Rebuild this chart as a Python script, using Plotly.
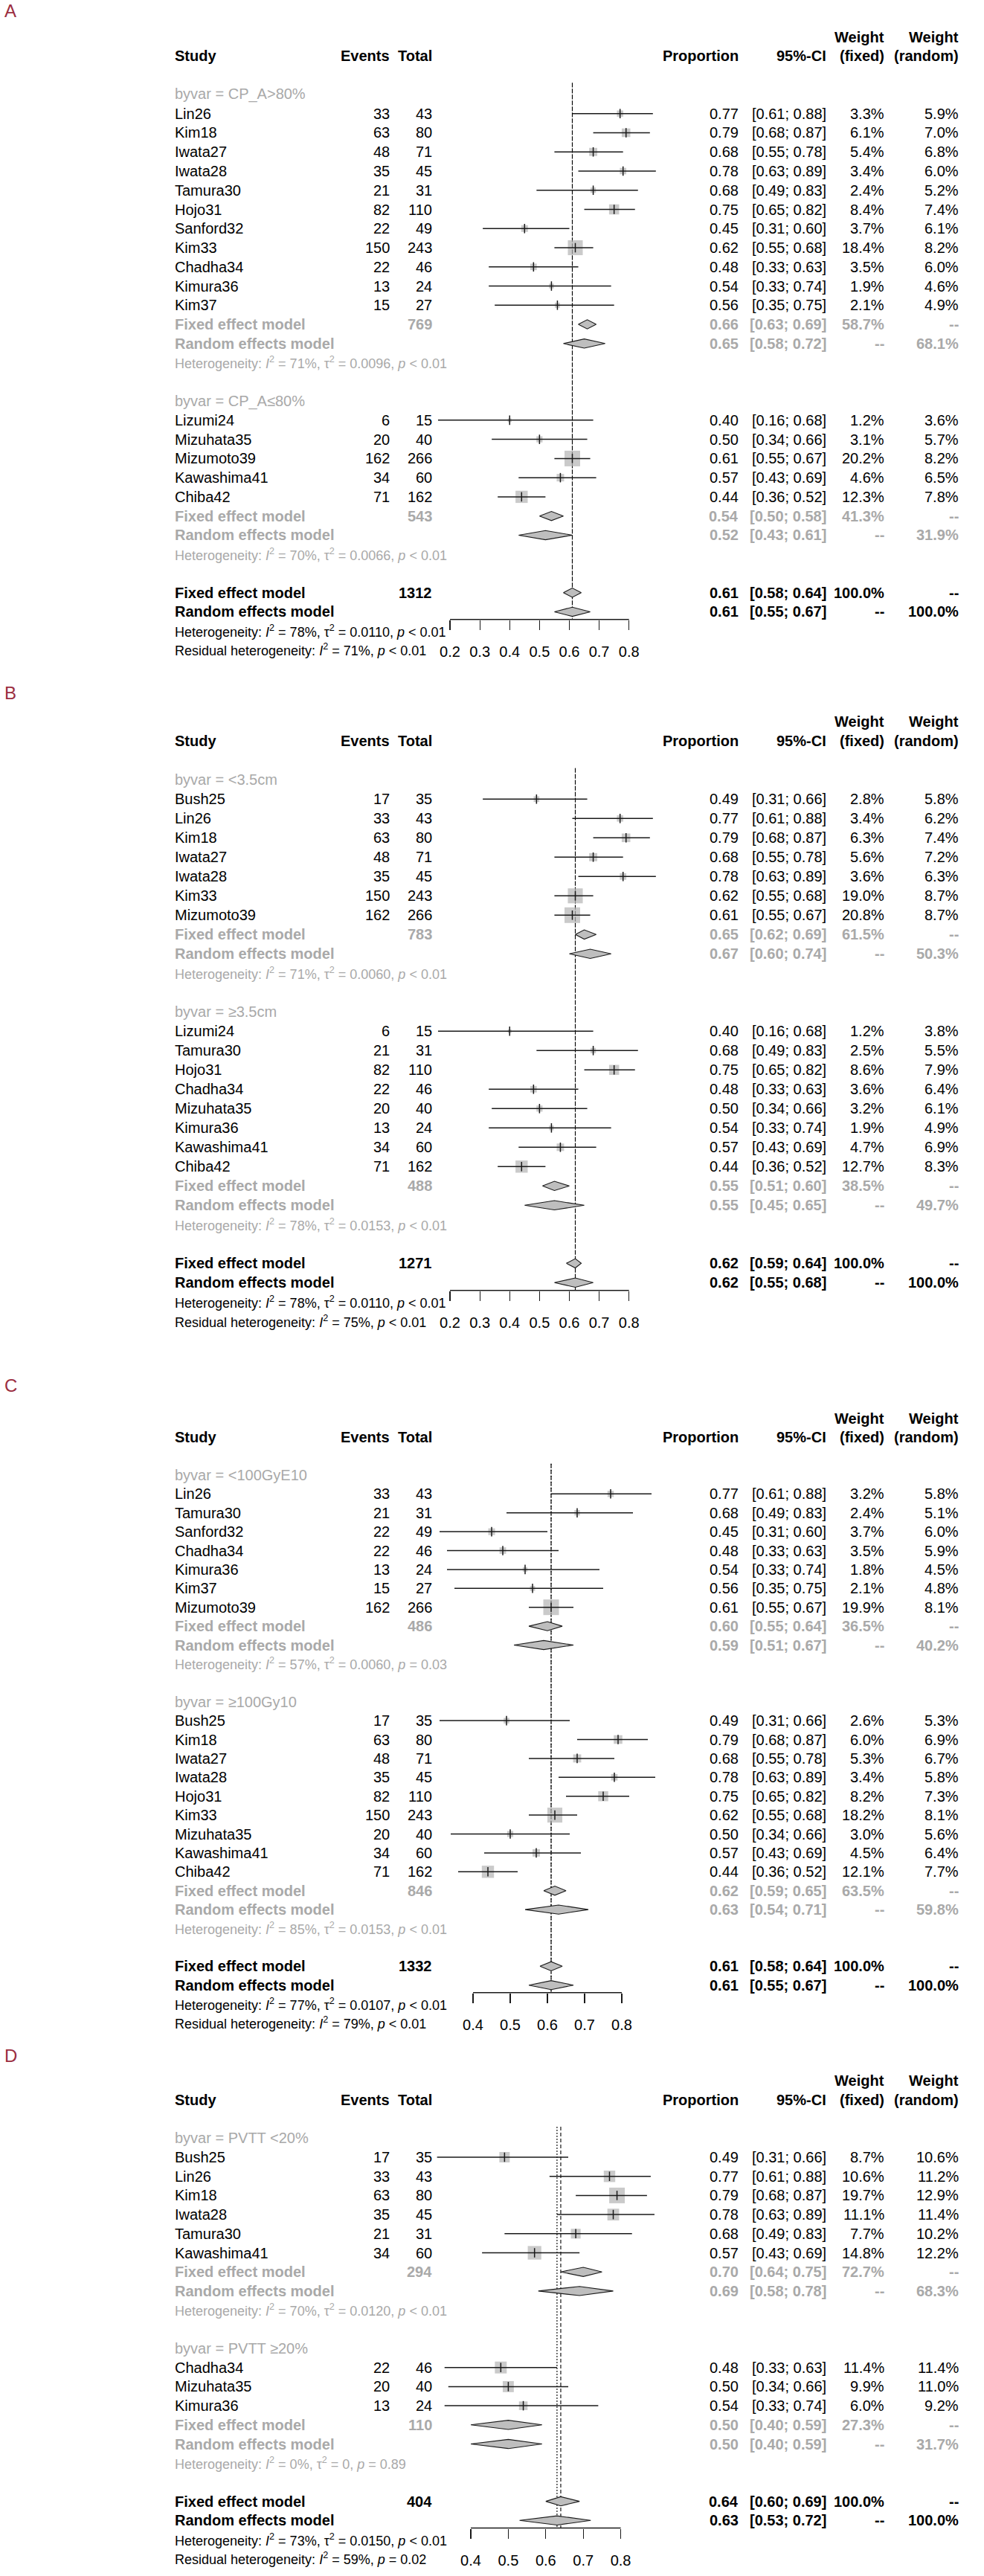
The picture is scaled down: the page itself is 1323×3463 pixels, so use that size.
import math
import plotly.graph_objects as go

W, H = 1323, 3463
FONT = "Liberation Sans, Arial, Helvetica, sans-serif"
BLACK = "#000000"
GRAY = "#a9a9a9"
SQUARE_COL = "#b4b4b4"
DIAMOND_COL = "#bebebe"
LINE_COL = "#1a1a1a"
LETTER_COL = "#9b2d3f"

# ===================== Panel A : CP_A =====================
A_group_labels = ["byvar = CP_A>80%", "byvar = CP_A≤80%"]
A_study = ["Lin26", "Kim18", "Iwata27", "Iwata28", "Tamura30", "Hojo31", "Sanford32",
           "Kim33", "Chadha34", "Kimura36", "Kim37",
           "Lizumi24", "Mizuhata35", "Mizumoto39", "Kawashima41", "Chiba42"]
A_group = [0] * 11 + [1] * 5
A_events = [33, 63, 48, 35, 21, 82, 22, 150, 22, 13, 15, 6, 20, 162, 34, 71]
A_total = [43, 80, 71, 45, 31, 110, 49, 243, 46, 24, 27, 15, 40, 266, 60, 162]
A_prop = [0.77, 0.79, 0.68, 0.78, 0.68, 0.75, 0.45, 0.62, 0.48, 0.54, 0.56, 0.40, 0.50, 0.61, 0.57, 0.44]
A_lower = [0.61, 0.68, 0.55, 0.63, 0.49, 0.65, 0.31, 0.55, 0.33, 0.33, 0.35, 0.16, 0.34, 0.55, 0.43, 0.36]
A_upper = [0.88, 0.87, 0.78, 0.89, 0.83, 0.82, 0.60, 0.68, 0.63, 0.74, 0.75, 0.68, 0.66, 0.67, 0.69, 0.52]
A_wfixed = [3.3, 6.1, 5.4, 3.4, 2.4, 8.4, 3.7, 18.4, 3.5, 1.9, 2.1, 1.2, 3.1, 20.2, 4.6, 12.3]
A_wrandom = [5.9, 7.0, 6.8, 6.0, 5.2, 7.4, 6.1, 8.2, 6.0, 4.6, 4.9, 3.6, 5.7, 8.2, 6.5, 7.8]
A_sub_total = [769, 543]
A_sub_fixed = [0.66, 0.54]
A_sub_fixed_lower = [0.63, 0.50]
A_sub_fixed_upper = [0.69, 0.58]
A_sub_wfixed = [58.7, 41.3]
A_sub_random = [0.65, 0.52]
A_sub_random_lower = [0.58, 0.43]
A_sub_random_upper = [0.72, 0.61]
A_sub_wrandom = [68.1, 31.9]
A_sub_I2 = ["71%", "70%"]
A_sub_tau2 = ["0.0096", "0.0066"]
A_sub_p = ["< 0.01", "< 0.01"]
A_all_total = 1312
A_all_fixed = [0.61, 0.58, 0.64]
A_all_random = [0.61, 0.55, 0.67]
A_all_het = ["78%", "0.0110", "< 0.01"]
A_resid_het = ["71%", "< 0.01"]
A_ticks = [0.2, 0.3, 0.4, 0.5, 0.6, 0.7, 0.8]

# ===================== Panel B : tumour size =====================
B_group_labels = ["byvar = <3.5cm", "byvar = ≥3.5cm"]
B_study = ["Bush25", "Lin26", "Kim18", "Iwata27", "Iwata28", "Kim33", "Mizumoto39",
           "Lizumi24", "Tamura30", "Hojo31", "Chadha34", "Mizuhata35", "Kimura36",
           "Kawashima41", "Chiba42"]
B_group = [0] * 7 + [1] * 8
B_events = [17, 33, 63, 48, 35, 150, 162, 6, 21, 82, 22, 20, 13, 34, 71]
B_total = [35, 43, 80, 71, 45, 243, 266, 15, 31, 110, 46, 40, 24, 60, 162]
B_prop = [0.49, 0.77, 0.79, 0.68, 0.78, 0.62, 0.61, 0.40, 0.68, 0.75, 0.48, 0.50, 0.54, 0.57, 0.44]
B_lower = [0.31, 0.61, 0.68, 0.55, 0.63, 0.55, 0.55, 0.16, 0.49, 0.65, 0.33, 0.34, 0.33, 0.43, 0.36]
B_upper = [0.66, 0.88, 0.87, 0.78, 0.89, 0.68, 0.67, 0.68, 0.83, 0.82, 0.63, 0.66, 0.74, 0.69, 0.52]
B_wfixed = [2.8, 3.4, 6.3, 5.6, 3.6, 19.0, 20.8, 1.2, 2.5, 8.6, 3.6, 3.2, 1.9, 4.7, 12.7]
B_wrandom = [5.8, 6.2, 7.4, 7.2, 6.3, 8.7, 8.7, 3.8, 5.5, 7.9, 6.4, 6.1, 4.9, 6.9, 8.3]
B_sub_total = [783, 488]
B_sub_fixed = [0.65, 0.55]
B_sub_fixed_lower = [0.62, 0.51]
B_sub_fixed_upper = [0.69, 0.60]
B_sub_wfixed = [61.5, 38.5]
B_sub_random = [0.67, 0.55]
B_sub_random_lower = [0.60, 0.45]
B_sub_random_upper = [0.74, 0.65]
B_sub_wrandom = [50.3, 49.7]
B_sub_I2 = ["71%", "78%"]
B_sub_tau2 = ["0.0060", "0.0153"]
B_sub_p = ["< 0.01", "< 0.01"]
B_all_total = 1271
B_all_fixed = [0.62, 0.59, 0.64]
B_all_random = [0.62, 0.55, 0.68]
B_all_het = ["78%", "0.0110", "< 0.01"]
B_resid_het = ["75%", "< 0.01"]
B_ticks = [0.2, 0.3, 0.4, 0.5, 0.6, 0.7, 0.8]

# ===================== Panel C : dose =====================
C_group_labels = ["byvar = <100GyE10", "byvar = ≥100Gy10"]
C_study = ["Lin26", "Tamura30", "Sanford32", "Chadha34", "Kimura36", "Kim37", "Mizumoto39",
           "Bush25", "Kim18", "Iwata27", "Iwata28", "Hojo31", "Kim33", "Mizuhata35",
           "Kawashima41", "Chiba42"]
C_group = [0] * 7 + [1] * 9
C_events = [33, 21, 22, 22, 13, 15, 162, 17, 63, 48, 35, 82, 150, 20, 34, 71]
C_total = [43, 31, 49, 46, 24, 27, 266, 35, 80, 71, 45, 110, 243, 40, 60, 162]
C_prop = [0.77, 0.68, 0.45, 0.48, 0.54, 0.56, 0.61, 0.49, 0.79, 0.68, 0.78, 0.75, 0.62, 0.50, 0.57, 0.44]
C_lower = [0.61, 0.49, 0.31, 0.33, 0.33, 0.35, 0.55, 0.31, 0.68, 0.55, 0.63, 0.65, 0.55, 0.34, 0.43, 0.36]
C_upper = [0.88, 0.83, 0.60, 0.63, 0.74, 0.75, 0.67, 0.66, 0.87, 0.78, 0.89, 0.82, 0.68, 0.66, 0.69, 0.52]
C_wfixed = [3.2, 2.4, 3.7, 3.5, 1.8, 2.1, 19.9, 2.6, 6.0, 5.3, 3.4, 8.2, 18.2, 3.0, 4.5, 12.1]
C_wrandom = [5.8, 5.1, 6.0, 5.9, 4.5, 4.8, 8.1, 5.3, 6.9, 6.7, 5.8, 7.3, 8.1, 5.6, 6.4, 7.7]
C_sub_total = [486, 846]
C_sub_fixed = [0.60, 0.62]
C_sub_fixed_lower = [0.55, 0.59]
C_sub_fixed_upper = [0.64, 0.65]
C_sub_wfixed = [36.5, 63.5]
C_sub_random = [0.59, 0.63]
C_sub_random_lower = [0.51, 0.54]
C_sub_random_upper = [0.67, 0.71]
C_sub_wrandom = [40.2, 59.8]
C_sub_I2 = ["57%", "85%"]
C_sub_tau2 = ["0.0060", "0.0153"]
C_sub_p = ["= 0.03", "< 0.01"]
C_all_total = 1332
C_all_fixed = [0.61, 0.58, 0.64]
C_all_random = [0.61, 0.55, 0.67]
C_all_het = ["77%", "0.0107", "< 0.01"]
C_resid_het = ["79%", "< 0.01"]
C_ticks = [0.4, 0.5, 0.6, 0.7, 0.8]

# ===================== Panel D : PVTT =====================
D_group_labels = ["byvar = PVTT <20%", "byvar = PVTT ≥20%"]
D_study = ["Bush25", "Lin26", "Kim18", "Iwata28", "Tamura30", "Kawashima41",
           "Chadha34", "Mizuhata35", "Kimura36"]
D_group = [0] * 6 + [1] * 3
D_events = [17, 33, 63, 35, 21, 34, 22, 20, 13]
D_total = [35, 43, 80, 45, 31, 60, 46, 40, 24]
D_prop = [0.49, 0.77, 0.79, 0.78, 0.68, 0.57, 0.48, 0.50, 0.54]
D_lower = [0.31, 0.61, 0.68, 0.63, 0.49, 0.43, 0.33, 0.34, 0.33]
D_upper = [0.66, 0.88, 0.87, 0.89, 0.83, 0.69, 0.63, 0.66, 0.74]
D_wfixed = [8.7, 10.6, 19.7, 11.1, 7.7, 14.8, 11.4, 9.9, 6.0]
D_wrandom = [10.6, 11.2, 12.9, 11.4, 10.2, 12.2, 11.4, 11.0, 9.2]
D_sub_total = [294, 110]
D_sub_fixed = [0.70, 0.50]
D_sub_fixed_lower = [0.64, 0.40]
D_sub_fixed_upper = [0.75, 0.59]
D_sub_wfixed = [72.7, 27.3]
D_sub_random = [0.69, 0.50]
D_sub_random_lower = [0.58, 0.40]
D_sub_random_upper = [0.78, 0.59]
D_sub_wrandom = [68.3, 31.7]
D_sub_I2 = ["70%", "0%"]
D_sub_tau2 = ["0.0120", "0"]
D_sub_p = ["< 0.01", "= 0.89"]
D_all_total = 404
D_all_fixed = [0.64, 0.60, 0.69]
D_all_random = [0.63, 0.53, 0.72]
D_all_het = ["73%", "0.0150", "< 0.01"]
D_resid_het = ["59%", "= 0.02"]
D_ticks = [0.4, 0.5, 0.6, 0.7, 0.8]

ns = globals()
panels = []
for L in "ABCD":
    keys = ["group_labels", "study", "group", "events", "total", "prop", "lower", "upper",
            "wfixed", "wrandom", "sub_total", "sub_fixed", "sub_fixed_lower", "sub_fixed_upper",
            "sub_wfixed", "sub_random", "sub_random_lower", "sub_random_upper", "sub_wrandom",
            "sub_I2", "sub_tau2", "sub_p", "all_total", "all_fixed", "all_random", "all_het",
            "resid_het", "ticks"]
    d = {k: ns[f"{L}_{k}"] for k in keys}
    d["letter"] = L
    panels.append(d)

# ---- page geometry (pixels) for each panel: row 0 position, row pitch, vertical band,
#      pixel position of first tick and pixels per unit on the proportion scale
geoms = [
    dict(row0=152.7, sp=25.76, top=0, bot=893, t0px=605, k=401.2, letter_px=15),
    dict(row0=1074.3, sp=26.0, top=893, bot=1790, t0px=605, k=401.2, letter_px=931),
    dict(row0=2008.3, sp=25.4, top=1790, bot=2745, t0px=636, k=500.0, letter_px=1862),
    dict(row0=2900.0, sp=25.7, top=2745, bot=3463, t0px=633, k=504.0, letter_px=2763),
]

# text column anchors (pixels)
X_STUDY = 234.6
X_EVENTS = 523.5
X_TOTAL = 581.0
X_PROP = 993.0
X_CI = 1110.5
X_WF = 1189.0
X_WR = 1288.5

FS = 20
FS_HET = 18


def esc(s):
    return s.replace("&", "&amp;").replace("<", "&lt;").replace(">", "&gt;")


def f2(v):
    return f"{v:.2f}"


def ci(lo, hi):
    return f"[{lo:.2f}; {hi:.2f}]"


def pct(v):
    return "--" if v is None else f"{v:.1f}%"


fig = go.Figure()
annotations = []
layout_axes = {}


def add_text(yref, row, xpx, text, anchor, size=FS, color=BLACK, bold=False):
    annotations.append(dict(
        x=xpx / W, xref="paper", y=row, yref=yref, text=text,
        xanchor=anchor, yanchor="middle", showarrow=False, borderpad=0, borderwidth=0,
        font=dict(family=FONT, size=size, color=color, weight="bold" if bold else "normal")))


for i, (P, G) in enumerate(zip(panels, geoms), start=1):
    xa = "x" if i == 1 else f"x{i}"
    ya = "y" if i == 1 else f"y{i}"
    xname = "xaxis" if i == 1 else f"xaxis{i}"
    yname = "yaxis" if i == 1 else f"yaxis{i}"

    # ---------------- row layout
    ngroups = len(P["group_labels"])
    r = -1
    study_rows = [None] * len(P["study"])
    grp_rows = []
    for g in range(ngroups):
        byrow = r
        r += 1
        for j, gg in enumerate(P["group"]):
            if gg == g:
                study_rows[j] = r
                r += 1
        grp_rows.append(dict(by=byrow, fixed=r, random=r + 1, het=r + 2))
        r += 4
    row_all_fixed = r
    row_all_random = r + 1
    row_all_het = r + 2
    row_resid = r + 3
    axis_row = row_all_random + 0.4
    top_line_row = -1.6

    # ---------------- axes
    ticks = P["ticks"]
    r0 = ticks[0] - G["t0px"] / G["k"]
    r1 = r0 + W / G["k"]
    top_row = (G["top"] - G["row0"]) / G["sp"]
    bot_row = (G["bot"] - G["row0"]) / G["sp"]
    axis_px = G["row0"] + G["sp"] * axis_row
    layout_axes[yname] = dict(domain=[1 - G["bot"] / H, 1 - G["top"] / H],
                              range=[bot_row, top_row], visible=False, fixedrange=True)
    layout_axes[xname] = dict(domain=[0, 1], range=[r0, r1], anchor="free",
                              position=1 - axis_px / H,
                              showgrid=False, zeroline=False, showline=False,
                              tickmode="array", tickvals=ticks,
                              ticktext=[f"{t:.1f}" for t in ticks],
                              ticks="outside", ticklen=13, tickwidth=1.2, tickcolor=LINE_COL,
                              tickfont=dict(family=FONT, size=FS, color=BLACK),
                              ticklabelstandoff=12, fixedrange=True)

    # ---------------- reference lines (fixed dashed, random dotted)
    fig.add_trace(go.Scatter(x=[P["all_fixed"][0]] * 2, y=[top_line_row, axis_row], mode="lines",
                             line=dict(color=BLACK, width=1.1, dash="5px,3px"),
                             xaxis=xa, yaxis=ya, hoverinfo="skip", showlegend=False))
    fig.add_trace(go.Scatter(x=[P["all_random"][0]] * 2, y=[top_line_row, axis_row], mode="lines",
                             line=dict(color=BLACK, width=1.1, dash="2px,2px"),
                             xaxis=xa, yaxis=ya, hoverinfo="skip", showlegend=False))

    # ---------------- squares (area proportional to fixed weight)
    wmax = max(P["wfixed"])
    sizes = [21.0 * math.sqrt(w / wmax) for w in P["wfixed"]]
    fig.add_trace(go.Scatter(x=P["prop"], y=study_rows, mode="markers",
                             marker=dict(symbol="square", size=sizes, color=SQUARE_COL,
                                         line=dict(width=0)),
                             xaxis=xa, yaxis=ya, hoverinfo="skip", showlegend=False))
    # ---------------- confidence intervals
    cx, cy = [], []
    for lo, hi, rr in zip(P["lower"], P["upper"], study_rows):
        cx += [lo, hi, None]
        cy += [rr, rr, None]
    fig.add_trace(go.Scatter(x=cx, y=cy, mode="lines", line=dict(color=LINE_COL, width=1.5),
                             xaxis=xa, yaxis=ya, hoverinfo="skip", showlegend=False))
    fig.add_trace(go.Scatter(x=P["prop"], y=study_rows, mode="markers",
                             marker=dict(symbol="line-ns", size=9,
                                         line=dict(color=LINE_COL, width=1.5)),
                             xaxis=xa, yaxis=ya, hoverinfo="skip", showlegend=False))

    # ---------------- diamonds
    def diamond(est, lo, hi, row):
        hh = 0.24
        fig.add_trace(go.Scatter(x=[lo, est, hi, est, lo], y=[row, row - hh, row, row + hh, row],
                                 mode="lines", fill="toself", fillcolor=DIAMOND_COL,
                                 line=dict(color=LINE_COL, width=1.1),
                                 xaxis=xa, yaxis=ya, hoverinfo="skip", showlegend=False))

    for g in range(ngroups):
        diamond(P["sub_fixed"][g], P["sub_fixed_lower"][g], P["sub_fixed_upper"][g], grp_rows[g]["fixed"])
        diamond(P["sub_random"][g], P["sub_random_lower"][g], P["sub_random_upper"][g], grp_rows[g]["random"])
    diamond(P["all_fixed"][0], P["all_fixed"][1], P["all_fixed"][2], row_all_fixed)
    diamond(P["all_random"][0], P["all_random"][1], P["all_random"][2], row_all_random)

    # ---------------- x axis line
    fig.add_trace(go.Scatter(x=[ticks[0], ticks[-1]], y=[axis_row, axis_row], mode="lines",
                             line=dict(color=LINE_COL, width=1.5),
                             xaxis=xa, yaxis=ya, hoverinfo="skip", showlegend=False))

    # ---------------- panel letter
    annotations.append(dict(x=4 / W, xref="paper", y=1 - G["letter_px"] / H, yref="paper",
                            text=P["letter"], xanchor="left", yanchor="middle", showarrow=False,
                            font=dict(family=FONT, size=24, color=LETTER_COL)))

    # ---------------- header
    add_text(ya, -3, X_STUDY, "Study", "left", bold=True)
    add_text(ya, -3, X_EVENTS, "Events", "right", bold=True)
    add_text(ya, -3, X_TOTAL, "Total", "right", bold=True)
    add_text(ya, -3, X_PROP, "Proportion", "right", bold=True)
    add_text(ya, -3, X_CI, "95%-CI", "right", bold=True)
    add_text(ya, -4, X_WF, "Weight", "right", bold=True)
    add_text(ya, -3, X_WF, "(fixed)", "right", bold=True)
    add_text(ya, -4, X_WR, "Weight", "right", bold=True)
    add_text(ya, -3, X_WR, "(random)", "right", bold=True)

    # ---------------- studies
    for j, rr in enumerate(study_rows):
        add_text(ya, rr, X_STUDY, P["study"][j], "left")
        add_text(ya, rr, X_EVENTS, str(P["events"][j]), "right")
        add_text(ya, rr, X_TOTAL, str(P["total"][j]), "right")
        add_text(ya, rr, X_PROP, f2(P["prop"][j]), "right")
        add_text(ya, rr, X_CI, ci(P["lower"][j], P["upper"][j]), "right")
        add_text(ya, rr, X_WF, pct(P["wfixed"][j]), "right")
        add_text(ya, rr, X_WR, pct(P["wrandom"][j]), "right")

    # ---------------- subgroup summaries
    for g in range(ngroups):
        gr = grp_rows[g]
        add_text(ya, gr["by"], X_STUDY, esc(P["group_labels"][g]), "left", color=GRAY)
        add_text(ya, gr["fixed"], X_STUDY, "Fixed effect model", "left", color=GRAY, bold=True)
        add_text(ya, gr["fixed"], X_TOTAL, str(P["sub_total"][g]), "right", color=GRAY, bold=True)
        add_text(ya, gr["fixed"], X_PROP, f2(P["sub_fixed"][g]), "right", color=GRAY, bold=True)
        add_text(ya, gr["fixed"], X_CI, ci(P["sub_fixed_lower"][g], P["sub_fixed_upper"][g]), "right",
                 color=GRAY, bold=True)
        add_text(ya, gr["fixed"], X_WF, pct(P["sub_wfixed"][g]), "right", color=GRAY, bold=True)
        add_text(ya, gr["fixed"], X_WR, "--", "right", color=GRAY, bold=True)
        add_text(ya, gr["random"], X_STUDY, "Random effects model", "left", color=GRAY, bold=True)
        add_text(ya, gr["random"], X_PROP, f2(P["sub_random"][g]), "right", color=GRAY, bold=True)
        add_text(ya, gr["random"], X_CI, ci(P["sub_random_lower"][g], P["sub_random_upper"][g]), "right",
                 color=GRAY, bold=True)
        add_text(ya, gr["random"], X_WF, "--", "right", color=GRAY, bold=True)
        add_text(ya, gr["random"], X_WR, pct(P["sub_wrandom"][g]), "right", color=GRAY, bold=True)
        het = (f"Heterogeneity: <i>I</i><sup>2</sup> = {P['sub_I2'][g]}, "
               f"τ<sup>2</sup> = {P['sub_tau2'][g]}, <i>p</i> {esc(P['sub_p'][g])}")
        add_text(ya, gr["het"], X_STUDY, het, "left", size=FS_HET, color=GRAY)

    # ---------------- overall
    add_text(ya, row_all_fixed, X_STUDY, "Fixed effect model", "left", bold=True)
    add_text(ya, row_all_fixed, X_TOTAL, str(P["all_total"]), "right", bold=True)
    add_text(ya, row_all_fixed, X_PROP, f2(P["all_fixed"][0]), "right", bold=True)
    add_text(ya, row_all_fixed, X_CI, ci(P["all_fixed"][1], P["all_fixed"][2]), "right", bold=True)
    add_text(ya, row_all_fixed, X_WF, "100.0%", "right", bold=True)
    add_text(ya, row_all_fixed, X_WR, "--", "right", bold=True)
    add_text(ya, row_all_random, X_STUDY, "Random effects model", "left", bold=True)
    add_text(ya, row_all_random, X_PROP, f2(P["all_random"][0]), "right", bold=True)
    add_text(ya, row_all_random, X_CI, ci(P["all_random"][1], P["all_random"][2]), "right", bold=True)
    add_text(ya, row_all_random, X_WF, "--", "right", bold=True)
    add_text(ya, row_all_random, X_WR, "100.0%", "right", bold=True)
    ah = P["all_het"]
    add_text(ya, row_all_het, X_STUDY,
             f"Heterogeneity: <i>I</i><sup>2</sup> = {ah[0]}, τ<sup>2</sup> = {ah[1]}, <i>p</i> {esc(ah[2])}",
             "left", size=FS_HET)
    rh = P["resid_het"]
    add_text(ya, row_resid, X_STUDY,
             f"Residual heterogeneity: <i>I</i><sup>2</sup> = {rh[0]}, <i>p</i> {esc(rh[1])}",
             "left", size=FS_HET)

fig.update_layout(
    width=W, height=H,
    margin=dict(l=0, r=0, t=0, b=0, pad=0),
    paper_bgcolor="white", plot_bgcolor="white",
    showlegend=False,
    annotations=annotations,
    font=dict(family=FONT, size=FS, color=BLACK),
    **layout_axes,
)

fig.write_html("out.html", config={"displayModeBar": False, "staticPlot": True},
               post_script="document.body.style.margin='0';document.body.style.overflow='hidden';")
